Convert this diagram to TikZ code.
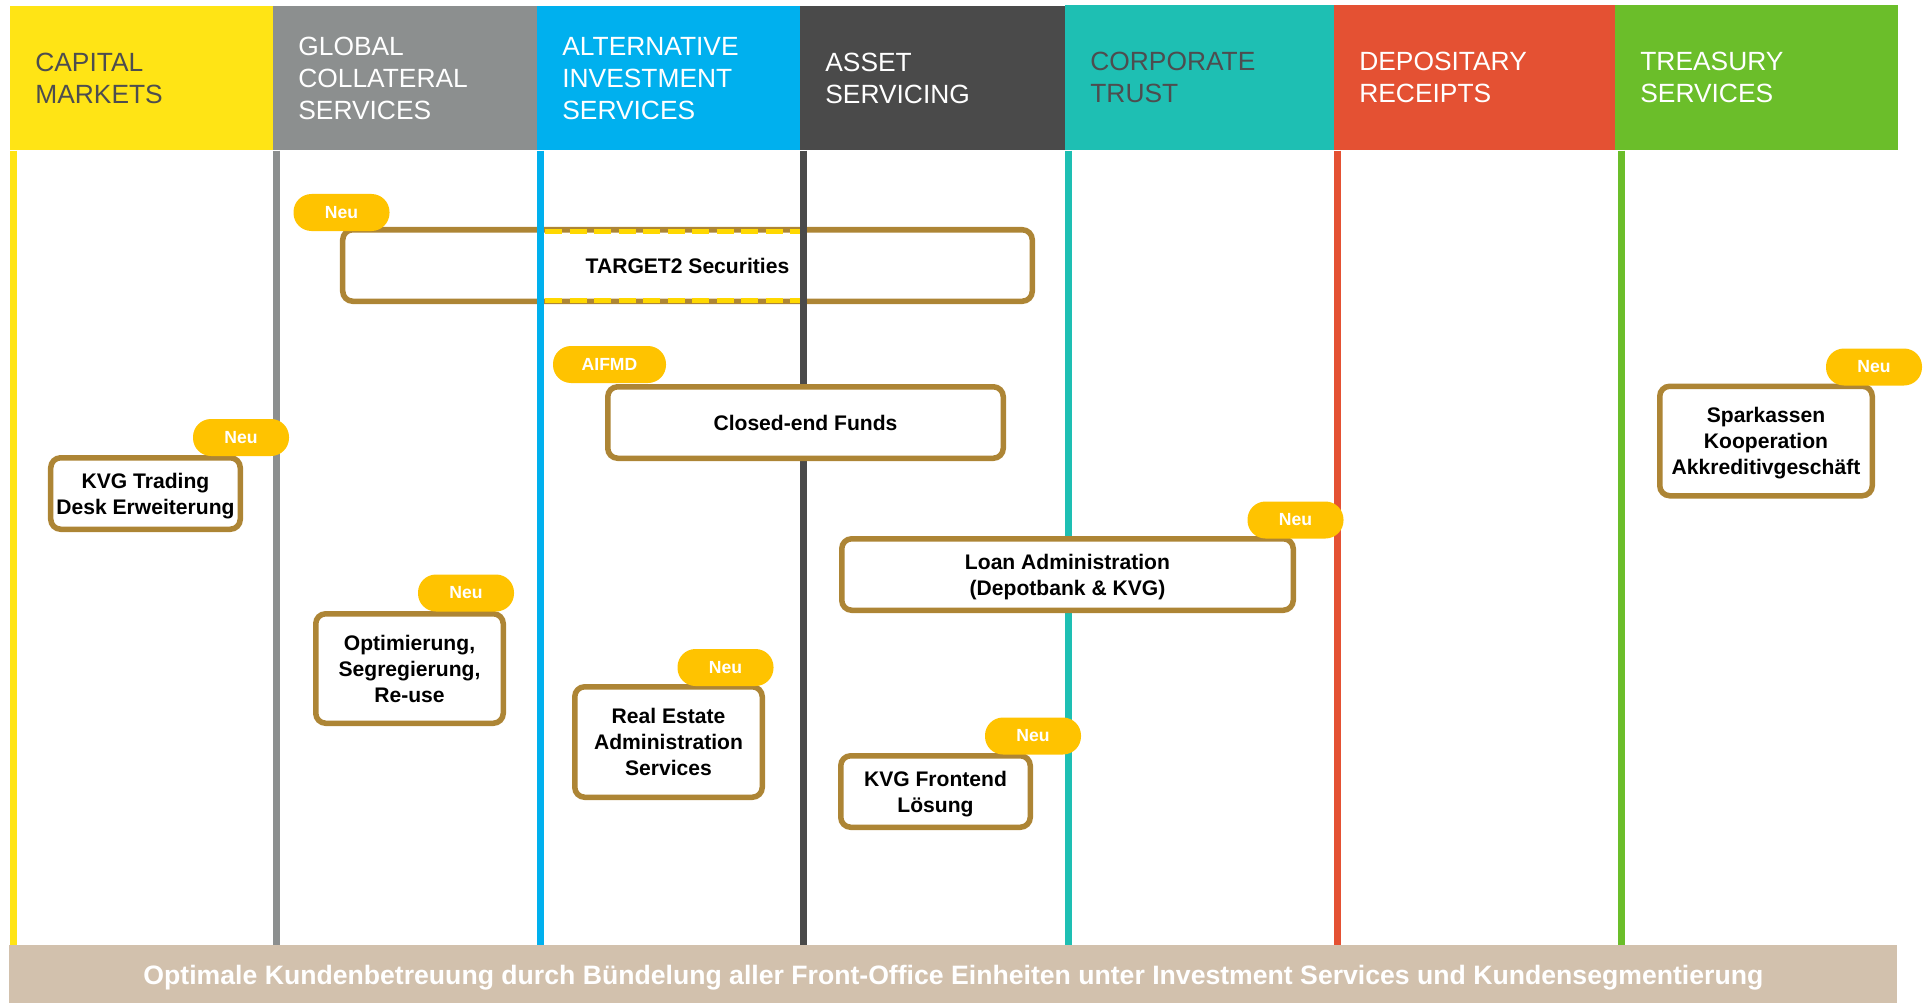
\documentclass[tikz,border=0pt]{standalone}
\usepackage{fontspec}
\setmainfont{Liberation Sans}
\usetikzlibrary{positioning}
\definecolor{capyellow}{HTML}{FFE415}
\definecolor{gcsgrey}{HTML}{8C8F8F}
\definecolor{aisblue}{HTML}{00B0EE}
\definecolor{asdark}{HTML}{4A4A4A}
\definecolor{ctteal}{HTML}{1EBFB3}
\definecolor{drred}{HTML}{E45133}
\definecolor{tsgreen}{HTML}{6BBE2A}
\definecolor{headtext}{HTML}{4D4D4F}
\definecolor{boxgold}{HTML}{AD8535}
\definecolor{badgegold}{HTML}{FFC300}
\definecolor{bandbeige}{HTML}{D2C1AD}
\definecolor{t2yellow}{HTML}{FFD800}
\begin{document}
\begin{tikzpicture}[x=0.2mm,y=-0.2mm,
    colhead/.style={anchor=north west,inner xsep=5mm,inner ysep=0pt,minimum height=28.8mm,
      align=left,font=\fontsize{15}{18.2}\selectfont,text=white},
    colline/.style={line width=1.4mm},
    itembox/.style={draw=boxgold,line width=1.1mm,rounded corners=2mm,fill=white,align=center,
      inner sep=0pt,minimum height=14.3mm,text depth=0pt,font=\bfseries\fontsize{12}{14.8}\selectfont},
    badge/.style={fill=badgegold,rounded corners=3.6mm,minimum width=19.2mm,minimum height=7.4mm,
      inner sep=0pt,text=white,font=\bfseries\fontsize{10}{12}\selectfont},
    t2dash/.style={draw=t2yellow,line width=1mm,dash pattern=on 3.4mm off 1.5mm}]
  \useasboundingbox (0,0) rectangle (1923,1003);
  \node[colhead,fill=capyellow,text=headtext,text width=42.6mm] (cap) at (10,6) {CAPITAL\\MARKETS};
  \node[colhead,fill=gcsgrey,text width=42.8mm] (gcs) at (273,6) {GLOBAL\\COLLATERAL\\SERVICES};
  \node[colhead,fill=aisblue,text width=42.6mm] (ais) at (537,6) {ALTERNATIVE\\INVESTMENT\\SERVICES};
  \node[colhead,fill=asdark,text width=43mm] (as) at (800,6) {ASSET\\SERVICING};
  \node[colhead,fill=ctteal,text=headtext,text width=43.8mm,minimum height=29mm] (ct) at (1065,5) {CORPORATE\\TRUST};
  \node[colhead,fill=drred,text width=46.2mm,minimum height=29mm] (dr) at (1334,5) {DEPOSITARY\\RECEIPTS};
  \node[colhead,fill=tsgreen,text width=46.6mm,minimum height=29mm] (ts) at (1615,5) {TREASURY\\SERVICES};
  \node[anchor=north west,fill=bandbeige,minimum width=377.6mm,minimum height=11.6mm,inner sep=0pt,
    text depth=0pt,text=white,font=\bfseries\fontsize{15.15}{18}\selectfont] (band) at (9,945)
    {Optimale Kundenbetreuung durch Bündelung aller Front-Office Einheiten unter Investment Services und Kundensegmentierung};
  \node[itembox,minimum width=137.9mm] (tgt) at (687.5,265.5) {TARGET2 Securities};
  \begin{scope}[colline]
    \draw[capyellow] ([xshift=0.7mm]cap.south west) -- ([xshift=0.7mm]cap.south west |- band.north);
    \draw[gcsgrey] ([xshift=0.7mm]gcs.south west) -- ([xshift=0.7mm]gcs.south west |- band.north);
    \draw[aisblue] ([xshift=0.7mm]ais.south west) -- ([xshift=0.7mm]ais.south west |- band.north);
    \draw[asdark] ([xshift=0.7mm]as.south west) -- ([xshift=0.7mm]as.south west |- band.north);
    \draw[ctteal] ([xshift=0.7mm]ct.south west) -- ([xshift=0.7mm]ct.south west |- band.north);
    \draw[drred] ([xshift=0.7mm]dr.south west) -- ([xshift=0.7mm]dr.south west |- band.north);
    \draw[tsgreen] ([xshift=1.2mm]ts.south west) -- ([xshift=1.2mm]ts.south west |- band.north);
  \end{scope}
  \draw[t2dash] ([xshift=1.6mm,yshift=-0.8mm]tgt.north -| ais.west) -- ([yshift=-0.8mm]tgt.north -| as.west);
  \draw[t2dash] ([xshift=1.6mm,yshift=0.8mm]tgt.south -| ais.west) -- ([yshift=0.8mm]tgt.south -| as.west);
  \node[itembox,minimum width=79.1mm] (cef) at (805.5,422.5) {Closed-end Funds};
  \node[itembox,minimum width=37.9mm] (kvgt) at (145.5,493.5) {KVG Trading\\Desk Erweiterung};
  \node[itembox,minimum width=42.5mm,minimum height=21.9mm] (spk) at (1766,441) {Sparkassen\\Kooperation\\Akkreditivgeschäft};
  \node[itembox,minimum width=90.3mm] (loan) at (1067.5,574.5) {Loan Administration\\(Depotbank \& KVG)};
  \node[itembox,minimum width=37.5mm,minimum height=21.9mm] (opt) at (409.5,668.5) {Optimierung,\\Segregierung,\\Re-use};
  \node[itembox,minimum width=37.5mm,minimum height=22.1mm] (real) at (668.5,742) {Real Estate\\Administration\\Services};
  \node[itembox,minimum width=37.9mm] (kvgf) at (935.5,791.5) {KVG Frontend\\Lösung};
  \node[badge] (tgtneu) at (341.5,212.5) {Neu};
  \node[badge,minimum width=22.6mm] (cefaifmd) at (609.5,364.5) {AIFMD};
  \node[badge] (kvgtneu) at (241,437.5) {Neu};
  \node[badge] (spkneu) at (1874,367) {Neu};
  \node[badge] (loanneu) at (1295.5,520) {Neu};
  \node[badge] (optneu) at (466,593) {Neu};
  \node[badge] (realneu) at (725.5,667.5) {Neu};
  \node[badge] (kvgfneu) at (1033,736) {Neu};
\end{tikzpicture}
\end{document}
